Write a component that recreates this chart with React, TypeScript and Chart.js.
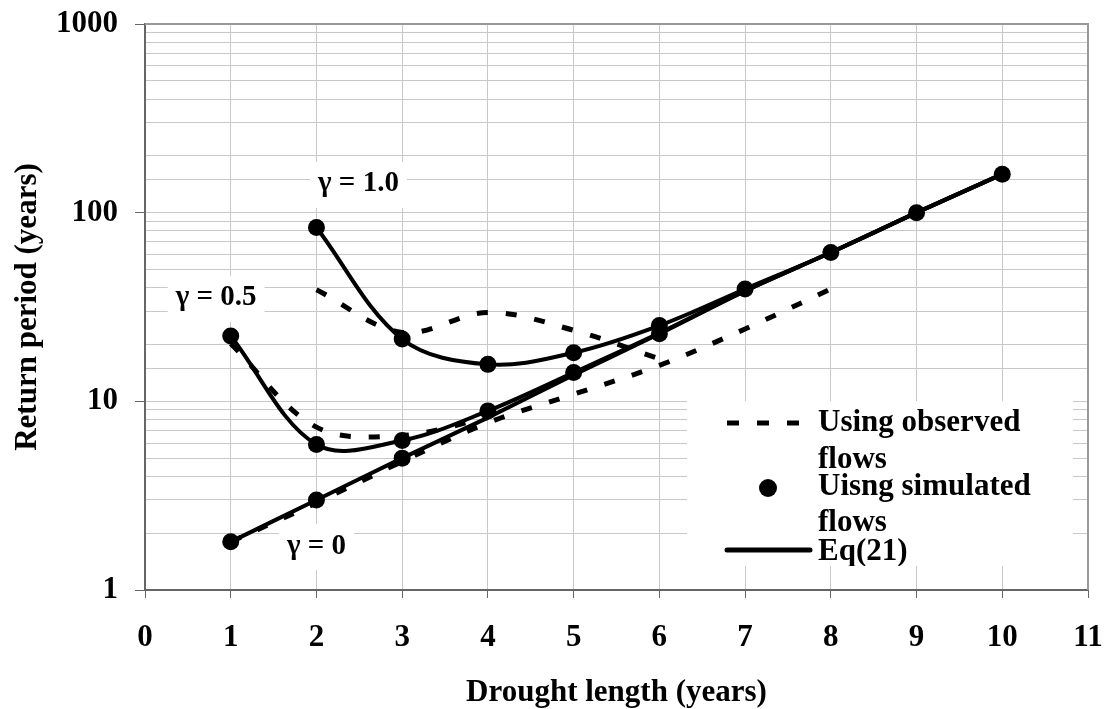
import React, { useEffect, useRef } from "react";
import { Chart, registerables } from "chart.js";

Chart.register(...registerables);

// ---- data ----
const xTickMin = 0;
const xTickMax = 11;
const yTickLabels = [1, 10, 100, 1000];

// observed flows (dashed)
const obsG0X = [1, 2, 3, 4, 5, 6, 7, 8];
const obsG0Y = [1.8, 2.9, 4.8, 7.7, 10.9, 15.5, 24.2, 39.4];
const obsG05X = [1, 2, 3, 4];
const obsG05Y = [20.2, 7.3, 6.6, 8.2];
const obsG1X = [2, 3, 4, 5, 6];
const obsG1Y = [39, 23.2, 29.6, 23.8, 16.8];

// Eq(21) (solid)
const eqG0X = [1, 2, 3, 4, 5, 6, 7, 8, 9, 10];
const eqG0Y = [1.8, 3.0, 5.0, 8.2, 13.8, 22.8, 38.5, 61.5, 100, 160];
const eqG05X = [1, 2, 3, 4, 5, 6, 7, 8, 9, 10];
const eqG05Y = [22.2, 5.9, 6.2, 8.9, 14.2, 23, 38.5, 61.5, 100, 160];
const eqG1X = [2, 3, 4, 5, 6, 7, 8, 9, 10];
const eqG1Y = [83.5, 21.4, 15.7, 18.1, 25.2, 39.4, 61.5, 100, 160];

// simulated flows (dots)
const simX = [1, 1, 2, 2, 2, 3, 3, 3, 4, 4, 5, 5, 6, 6, 7, 8, 9, 10];
const simY = [1.8, 22.2, 3.0, 5.9, 83.5, 5.0, 6.2, 21.4, 8.9, 15.7, 14.2, 18.1, 22.8, 25.2, 39.4, 61.5, 100, 160];

// gamma annotations
const annTexts = ["γ = 1.0", "γ = 0.5", "γ = 0"];
const annX = [2.49, 0.83, 2.0];
const annY = [142, 35.4, 1.71];

// legend
const legendLines = [["Using observed", "flows"], ["Uisng simulated", "flows"], ["Eq(21)"]];

const FONT = '"Liberation Serif", "Times New Roman", Times, serif';

const pts = (xs: number[], ys: number[]) => xs.map((x, i) => ({ x, y: ys[i] }));

const isDecade = (v: number) => Math.abs(Math.log10(v) - Math.round(Math.log10(v))) < 1e-6;

const framePlugin = {
  id: "frameAndLabels",
  beforeDatasetsDraw(chart: any) {
    const { ctx, chartArea: ca, scales } = chart;
    ctx.save();
    ctx.strokeStyle = "#999";
    ctx.lineWidth = 2;
    ctx.beginPath();
    ctx.moveTo(ca.left, ca.top);
    ctx.lineTo(ca.right, ca.top);
    ctx.lineTo(ca.right, ca.bottom);
    ctx.stroke();

    ctx.font = `bold 29px ${FONT}`;
    ctx.textBaseline = "middle";
    ctx.textAlign = "center";
    annTexts.forEach((t, i) => {
      const px = scales.x.getPixelForValue(annX[i]);
      const py = scales.y.getPixelForValue(annY[i]);
      const w = ctx.measureText(t).width;
      ctx.fillStyle = "#fff";
      ctx.fillRect(px - w / 2 - 8, py - 22, w + 16, 46);
      ctx.fillStyle = "#000";
      ctx.fillText(t, px, py);
    });
    ctx.restore();
  },
};

const legendPlugin = {
  id: "customLegend",
  afterDatasetsDraw(chart: any) {
    const { ctx, chartArea: ca } = chart;
    const left = ca.right - 401;
    const right = ca.right - 15;
    const top = ca.top + 377;
    const bottom = ca.top + 542;
    ctx.save();
    ctx.fillStyle = "#fff";
    ctx.fillRect(left, top, right - left, bottom - top);
    ctx.beginPath();
    ctx.rect(left, top, right - left, bottom - top);
    ctx.clip();

    // dashed symbol
    ctx.strokeStyle = "#000";
    ctx.lineWidth = 5;
    ctx.setLineDash([12, 18]);
    ctx.beginPath();
    ctx.moveTo(ca.right - 361, ca.top + 399);
    ctx.lineTo(ca.right - 289, ca.top + 399);
    ctx.stroke();
    ctx.setLineDash([]);

    // dot symbol
    ctx.fillStyle = "#000";
    ctx.beginPath();
    ctx.arc(ca.right - 320, ca.top + 464, 9, 0, Math.PI * 2);
    ctx.fill();

    // solid symbol
    ctx.lineWidth = 5;
    ctx.lineCap = "round";
    ctx.beginPath();
    ctx.moveTo(ca.right - 361, ca.top + 526);
    ctx.lineTo(ca.right - 278, ca.top + 526);
    ctx.stroke();

    ctx.font = `bold 31px ${FONT}`;
    ctx.textAlign = "left";
    ctx.textBaseline = "middle";
    const tx = ca.right - 270;
    const ys = [[ca.top + 399, ca.top + 436], [ca.top + 463, ca.top + 499], [ca.top + 528]];
    legendLines.forEach((lines, i) => {
      lines.forEach((l, j) => ctx.fillText(l, tx, ys[i][j]));
    });
    ctx.restore();
  },
};

export default function App() {
  const ref = useRef<HTMLCanvasElement | null>(null);

  useEffect(() => {
    document.body.style.margin = "0";
    if (!ref.current) return;
    Chart.defaults.font.family = FONT;

    const dashed = (data: any[]) => ({
      type: "line" as const,
      data,
      borderColor: "#000",
      borderWidth: 5,
      borderDash: [11, 18],
      pointRadius: 0,
      tension: 0.35,
      fill: false,
    });
    const solid = (data: any[], tension: number) => ({
      type: "line" as const,
      data,
      borderColor: "#000",
      borderWidth: 4,
      pointRadius: 0,
      tension,
      fill: false,
    });

    const chart = new Chart(ref.current, {
      type: "line",
      data: {
        datasets: [
          {
            type: "scatter" as const,
            label: "Uisng simulated flows",
            data: pts(simX, simY),
            backgroundColor: "#000",
            borderColor: "#000",
            borderWidth: 0,
            pointRadius: 8.5,
            showLine: false,
          } as any,
          { label: "Eq(21) γ=0", ...solid(pts(eqG0X, eqG0Y), 0.2) },
          { label: "Eq(21) γ=0.5", ...solid(pts(eqG05X, eqG05Y), 0.35) },
          { label: "Eq(21) γ=1.0", ...solid(pts(eqG1X, eqG1Y), 0.35) },
          { label: "Observed γ=0", ...dashed(pts(obsG0X, obsG0Y)) },
          { label: "Observed γ=0.5", ...dashed(pts(obsG05X, obsG05Y)) },
          { label: "Observed γ=1.0", ...dashed(pts(obsG1X, obsG1Y)) },
        ] as any,
      },
      options: {
        responsive: false,
        animation: false,
        parsing: true,
        layout: { padding: { top: 24, right: 19, left: 0, bottom: 0 } },
        plugins: { legend: { display: false }, tooltip: { enabled: false } },
        scales: {
          x: {
            type: "linear",
            min: xTickMin,
            max: xTickMax,
            ticks: {
              stepSize: 1,
              autoSkip: false,
              maxRotation: 0,
              padding: 21,
              color: "#000",
              font: { size: 31, weight: "bold", family: FONT },
            },
            grid: { color: "#c8c8c8", lineWidth: 1, tickLength: 8, tickColor: "#666" },
            border: { color: "#666", width: 2 },
            title: {
              display: true,
              text: "Drought length (years)",
              color: "#000",
              font: { size: 31, weight: "bold", family: FONT, lineHeight: 1 },
              padding: { top: 0, bottom: 1 },
            },
            afterFit(scale: any) {
              scale.height = 119;
              scale.paddingLeft = 0;
              scale.paddingRight = 0;
            },
          },
          y: {
            type: "logarithmic",
            min: 1,
            max: 1000,
            ticks: {
              autoSkip: false,
              padding: 17,
              color: "#000",
              font: { size: 31, weight: "bold", family: FONT },
              callback: (v: any) => {
                const n = Number(v);
                return yTickLabels.some((t) => Math.abs(t - n) < 1e-6) ? String(Math.round(n)) : "";
              },
            },
            grid: {
              color: "#c8c8c8",
              lineWidth: 1,
              tickLength: 10,
              tickColor: (c: any) => (c.tick && isDecade(c.tick.value) ? "#666" : "rgba(0,0,0,0)"),
            },
            border: { color: "#666", width: 2 },
            title: {
              display: true,
              text: "Return period (years)",
              color: "#000",
              font: { size: 31, weight: "bold", family: FONT, lineHeight: 1 },
              padding: { top: 12, bottom: 0 },
            },
            afterFit(scale: any) {
              scale.width = 145;
              scale.paddingTop = 0;
              scale.paddingBottom = 0;
            },
          },
        },
      } as any,
      plugins: [framePlugin, legendPlugin],
    });

    return () => chart.destroy();
  }, []);

  return (
    <div style={{ position: "relative", width: 1107, height: 709 }}>
      <canvas
        ref={ref}
        width={1107}
        height={709}
        style={{ position: "absolute", left: 0, top: 0, display: "block" }}
      />
    </div>
  );
}
